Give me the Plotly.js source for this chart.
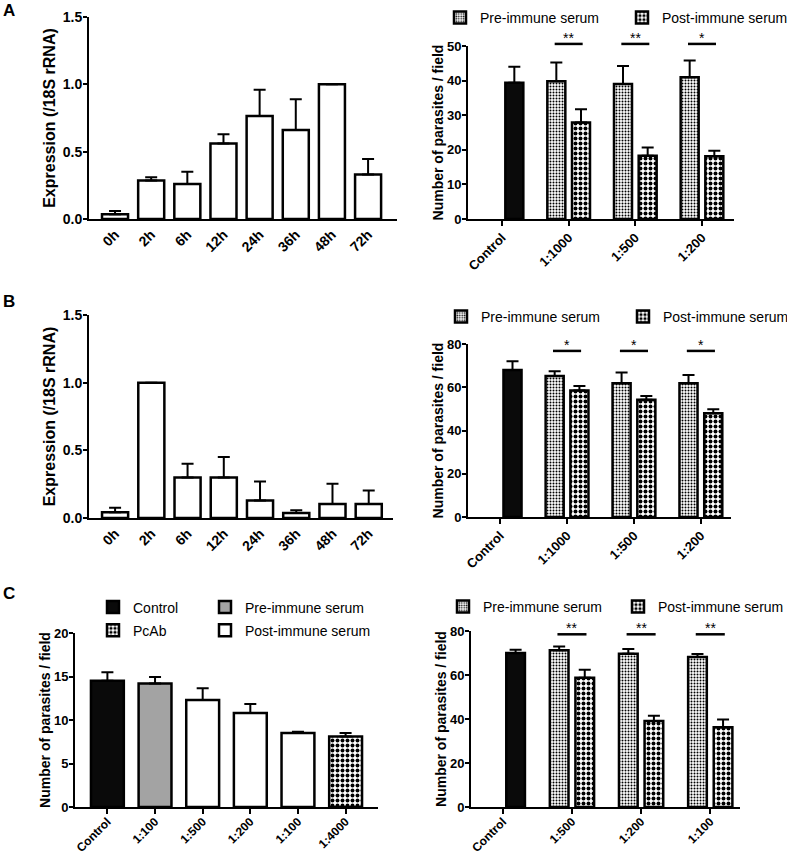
<!DOCTYPE html>
<html>
<head>
<meta charset="utf-8">
<script src="https://cdn.plot.ly/plotly-3.0.1.min.js"></script>
<style>
  body { margin: 0; background: #fff; }
  #fig { width: 787px; height: 854px; }
</style>
</head>
<body>
<div id="fig"></div>
<script>
// ---- data ----
// A / B left: expression time course (/18S rRNA)
var timeLabels = ['0h', '2h', '6h', '12h', '24h', '36h', '48h', '72h'];
var exprA = [0.035, 0.285, 0.26, 0.56, 0.765, 0.66, 1.0, 0.33];
var exprAErr = [0.025, 0.025, 0.09, 0.07, 0.195, 0.23, 0, 0.115];
var exprB = [0.042, 1.0, 0.30, 0.30, 0.13, 0.037, 0.103, 0.103];
var exprBErr = [0.034, 0, 0.10, 0.15, 0.14, 0.02, 0.15, 0.10];

// A right: parasites per field
var dilA = ['1:1000', '1:500', '1:200'];
var ctrlA = [39.4];
var ctrlAErr = [4.6];
var preA = [39.8, 39.0, 41.0];
var preAErr = [5.4, 5.2, 4.8];
var postA = [27.9, 18.3, 18.1];
var postAErr = [3.8, 2.4, 1.6];
var sigA = ['**', '**', '*'];

// B right
var dilB = ['1:1000', '1:500', '1:200'];
var ctrlB = [68.0];
var ctrlBErr = [4.0];
var preB = [65.2, 61.8, 61.8];
var preBErr = [2.2, 5.0, 3.9];
var postB = [58.5, 54.2, 48.0];
var postBErr = [2.1, 1.8, 1.8];
var sigB = ['*', '*', '*'];

// C right
var dilC = ['1:500', '1:200', '1:100'];
var ctrlC = [70.0];
var ctrlCErr = [1.5];
var preC = [71.2, 69.7, 68.2];
var preCErr = [1.8, 2.1, 1.3];
var postC = [58.8, 39.1, 36.2];
var postCErr = [3.6, 2.4, 3.6];
var sigC = ['**', '**', '**'];

// C left
var cLabels = ['Control', '1:100', '1:500', '1:200', '1:100', '1:4000'];
var cValues = [14.5, 14.2, 12.3, 10.8, 8.5, 8.1];
var cErr = [1.0, 0.75, 1.35, 1.05, 0.15, 0.4];
var cGroup = ['Control', 'Pre-immune serum', 'Post-immune serum', 'Post-immune serum', 'Post-immune serum', 'PcAb'];

// ---- styles ----
var FONT = 'Liberation Sans, Arial, sans-serif';
var W = 787, H = 854;
var outline = {color: '#000', width: 2.5};
var finePat = {shape: '.', size: 3, solidity: 0.35, fgcolor: '#000', bgcolor: '#fff', fillmode: 'replace'};
var coarsePat = {shape: '.', size: 5, solidity: 0.5, fgcolor: '#000', bgcolor: '#fff', fillmode: 'replace'};

function dom(p0, p1, size) { return [p0 / size, p1 / size]; }
function ydom(top, bottom) { return [1 - bottom / H, 1 - top / H]; }

function errs(arr) {
    return {type: 'data', array: arr, arrayminus: arr.map(function() { return 0; }),
        symmetric: false, color: '#000', thickness: 2, width: 6};
}

function xAx(domain, anchor, range, ticks, tsize, standoff) {
    return {domain: domain, anchor: anchor, range: range, showline: true, linewidth: 2, linecolor: '#000',
        ticks: ticks, ticklen: 5, tickwidth: 2, tickcolor: '#000', tickangle: -45,
        ticklabelstandoff: standoff,
        showgrid: false, zeroline: false, fixedrange: true,
        tickfont: {family: FONT, size: tsize, weight: 700, color: '#000'}};
}
function yAx(domain, anchor, range, dtick, fmt, title, titleSize, tickSize, standoff) {
    return {domain: domain, anchor: anchor, range: range, dtick: dtick, tickformat: fmt,
        showline: true, linewidth: 2, linecolor: '#000',
        ticks: 'outside', ticklen: 4, tickwidth: 2, tickcolor: '#000', ticklabelstandoff: -2,
        showgrid: false, zeroline: false, fixedrange: true,
        tickfont: {family: FONT, size: tickSize, weight: 700, color: '#000'},
        title: {text: title, standoff: standoff, font: {family: FONT, size: titleSize, weight: 700, color: '#000'}}};
}

var data = [];

// time course panels
function timeBars(vals, err, xa, ya) {
    data.push({type: 'bar', x: timeLabels, y: vals, error_y: errs(err), width: 0.72,
        marker: {color: '#fff', line: outline}, xaxis: xa, yaxis: ya, showlegend: false});
}
timeBars(exprA, exprAErr, 'x', 'y');
timeBars(exprB, exprBErr, 'x3', 'y3');

// serum panels
function serumBars(ctrl, ctrlErr, dils, pre, preErr, post, postErr, xa, ya, leg) {
    data.push({type: 'bar', name: 'Control', x: ['Control'], y: ctrl, error_y: errs(ctrlErr),
        offset: 0.05, width: 0.27, marker: {color: '#0a0a0a', line: outline},
        xaxis: xa, yaxis: ya, showlegend: false});
    data.push({type: 'bar', name: 'Pre-immune serum', x: dils, y: pre, error_y: errs(preErr),
        offset: -0.32, width: 0.27, marker: {color: '#fff', pattern: finePat, line: outline},
        xaxis: xa, yaxis: ya, legend: leg});
    data.push({type: 'bar', name: 'Post-immune serum', x: dils, y: post, error_y: errs(postErr),
        offset: 0.05, width: 0.27, marker: {color: '#fff', pattern: coarsePat, line: outline},
        xaxis: xa, yaxis: ya, legend: leg});
}
serumBars(ctrlA, ctrlAErr, dilA, preA, preAErr, postA, postAErr, 'x2', 'y2', 'legend');
serumBars(ctrlB, ctrlBErr, dilB, preB, preBErr, postB, postBErr, 'x4', 'y4', 'legend2');
serumBars(ctrlC, ctrlCErr, dilC, preC, preCErr, postC, postCErr, 'x6', 'y6', 'legend3');

// C left: one trace per group, placed at index positions
var cStyles = {
    'Control': {marker: {color: '#0a0a0a', line: outline}, legend: 'legend4'},
    'PcAb': {marker: {color: '#fff', pattern: coarsePat, line: outline}, legend: 'legend4'},
    'Pre-immune serum': {marker: {color: '#a3a3a3', line: outline}, legend: 'legend5'},
    'Post-immune serum': {marker: {color: '#fff', line: outline}, legend: 'legend5'}
};
['Control', 'PcAb', 'Pre-immune serum', 'Post-immune serum'].forEach(function(g) {
    var xs = [], ys = [], es = [];
    cGroup.forEach(function(cg, i) {
        if(cg === g) { xs.push(i); ys.push(cValues[i]); es.push(cErr[i]); }
    });
    data.push({type: 'bar', name: g, x: xs, y: ys, error_y: errs(es), width: 0.69,
        marker: cStyles[g].marker, legend: cStyles[g].legend, legendgroup: g,
        xaxis: 'x5', yaxis: 'y5'});
});

// significance bars (y given in axis-domain units so they may sit above the top tick)
var shapes = [], annotations = [];
function sigMarks(sig, level, ymax, xa, ya) {
    sig.forEach(function(s, i) {
        shapes.push({type: 'line', xref: xa, yref: ya + ' domain', x0: i + 1 - 0.21, x1: i + 1 + 0.21,
            y0: level / ymax, y1: level / ymax, line: {color: '#000', width: 2.5}});
        annotations.push({xref: xa, yref: ya + ' domain', x: i + 1, y: level / ymax, text: s, showarrow: false,
            yanchor: 'bottom', yshift: -4, font: {family: FONT, size: 14, color: '#000'}});
    });
}
sigMarks(sigA, 50.6, 50, 'x2', 'y2');
sigMarks(sigB, 76.8, 80, 'x4', 'y4');
sigMarks(sigC, 78.5, 80, 'x6', 'y6');

// panel letters
[['A', 10], ['B', 302], ['C', 593]].forEach(function(l) {
    annotations.push({xref: 'paper', yref: 'paper', x: 1 / W, y: 1 - l[1] / H, xanchor: 'left', yanchor: 'middle',
        text: l[0], showarrow: false, font: {family: FONT, size: 17, weight: 700, color: '#000'}});
});

function legendAt(xpx, ypx, entry, orient) {
    var l = {x: xpx / W, y: 1 - ypx / H, xanchor: 'left', yanchor: 'middle', orientation: orient,
        bgcolor: 'rgba(0,0,0,0)', tracegroupgap: 2,
        font: {family: FONT, size: 14, color: '#000'}};
    if(entry) { l.entrywidth = entry; l.entrywidthmode = 'pixels'; }
    return l;
}

var layout = {
    width: W, height: H,
    // legends run to the right edge like in the source figure; don't let them shrink the plots
    margin: {l: 0, r: 0, t: 0, b: 0, autoexpand: false},
    paper_bgcolor: '#fff', plot_bgcolor: '#fff',
    barmode: 'overlay',
    showlegend: true,
    xaxis: Object.assign(xAx(dom(89, 397, W), 'y', [-0.72, 7.8], '', 14, 0), {type: 'category'}),
    yaxis: yAx(ydom(17, 219), 'x', [0, 1.5], 0.5, '.1f', 'Expression (/18S rRNA)', 16, 14, 3),
    xaxis2: Object.assign(xAx(dom(468, 734, W), 'y2', [-0.51, 3.48], 'outside', 13, -1),
        {type: 'category', categoryorder: 'array', categoryarray: ['Control'].concat(dilA)}),
    yaxis2: yAx(ydom(46, 219), 'x2', [0, 50], 10, 'd', 'Number of parasites / field', 14, 13, 0),
    xaxis3: Object.assign(xAx(dom(89, 393, W), 'y3', [-0.72, 7.67], '', 14, 0), {type: 'category'}),
    yaxis3: yAx(ydom(315, 518), 'x3', [0, 1.5], 0.5, '.1f', 'Expression (/18S rRNA)', 16, 14, 3),
    xaxis4: Object.assign(xAx(dom(468, 731, W), 'y4', [-0.48, 3.45], 'outside', 13, -1),
        {type: 'category', categoryorder: 'array', categoryarray: ['Control'].concat(dilB)}),
    yaxis4: yAx(ydom(344, 517), 'x4', [0, 80], 20, 'd', 'Number of parasites / field', 14, 13, 0),
    xaxis5: Object.assign(xAx(dom(75, 378, W), 'y5', [-0.68, 5.68], 'outside', 12, -4),
        {tickvals: cLabels.map(function(d, i) { return i; }), ticktext: cLabels}),
    yaxis5: yAx(ydom(633, 807), 'x5', [0, 20], 5, 'd', 'Number of parasites / field', 14, 13, 0),
    xaxis6: Object.assign(xAx(dom(471, 740, W), 'y6', [-0.46, 3.43], 'outside', 12, -4),
        {type: 'category', categoryorder: 'array', categoryarray: ['Control'].concat(dilC)}),
    yaxis6: yAx(ydom(631, 807), 'x6', [0, 80], 20, 'd', 'Number of parasites / field', 14, 13, 0),
    legend: legendAt(440, 18, 137, 'h'),
    legend2: legendAt(441, 317, 137, 'h'),
    legend3: legendAt(443, 607, 130, 'h'),
    legend4: legendAt(93, 619, null, 'v'),
    legend5: legendAt(205, 619, null, 'v'),
    shapes: shapes,
    annotations: annotations
};

Plotly.newPlot('fig', data, layout, {displayModeBar: false, staticPlot: true});
</script>
</body>
</html>
